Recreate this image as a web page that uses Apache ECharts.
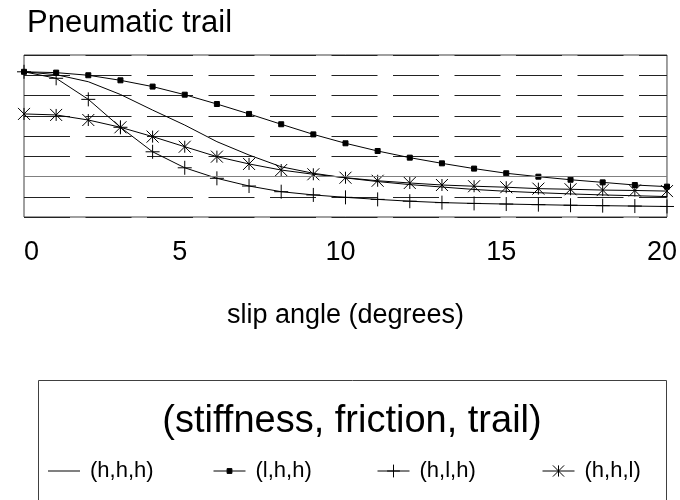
<!DOCTYPE html>
<html>
<head>
<meta charset="utf-8">
<style>
  html, body { margin: 0; padding: 0; background: #fff; }
  #chart { width: 680px; height: 500px; }
</style>
<script src="https://cdn.jsdelivr.net/npm/echarts@6/dist/echarts.min.js"></script>
</head>
<body>
<div id="chart"></div>
<script>
// slip angle in degrees
const slipAngle = [0, 1, 2, 3, 4, 5, 6, 7, 8, 9, 10, 11, 12, 13, 14, 15, 16, 17, 18, 19, 20];
const xTicks = [0, 5, 10, 15, 20];
// pneumatic trail (arbitrary units)
const hhh = [7.17, 7.03, 6.68, 6.05, 5.28, 4.54, 3.72, 3.06, 2.48, 2.16, 1.93, 1.75, 1.60, 1.48, 1.36, 1.27, 1.20, 1.14, 1.09, 1.05, 1.01];
const lhh = [7.17, 7.13, 7.00, 6.75, 6.44, 6.04, 5.58, 5.09, 4.58, 4.08, 3.64, 3.26, 2.93, 2.65, 2.39, 2.16, 1.99, 1.84, 1.71, 1.58, 1.50];
const hlh = [7.17, 6.85, 5.81, 4.43, 3.22, 2.43, 1.91, 1.53, 1.25, 1.09, 0.97, 0.87, 0.78, 0.71, 0.67, 0.64, 0.61, 0.58, 0.56, 0.54, 0.52];
const hhl = [5.09, 5.04, 4.79, 4.43, 3.97, 3.47, 2.98, 2.62, 2.32, 2.11, 1.94, 1.79, 1.68, 1.58, 1.52, 1.47, 1.40, 1.37, 1.33, 1.31, 1.28];
const seriesNames = ['(h,h,h)', '(l,h,h)', '(h,l,h)', '(h,h,l)'];
const referenceLevel = 2;

const pair = arr => slipAngle.map((x, i) => [x, arr[i]]);
const PLUS = 'path://M0,-7L0,7M-7,0L7,0';
const STAR = 'path://M-6,-6L6,6M-6,6L6,-6M0,-6L0,6';
const FONT = '"Liberation Sans", Arial, Helvetica, sans-serif';

const blackItem = { color: '#000', borderColor: '#000', borderWidth: 1 };
const blackLine = { color: '#000', width: 1, type: 'solid' };

function mkSeries(name, data, symbol, size) {
  return {
    name: name,
    type: 'line',
    data: pair(data),
    symbol: symbol,
    symbolSize: size,
    showSymbol: symbol !== 'none',
    showAllSymbol: true,
    clip: false,
    lineStyle: blackLine,
    itemStyle: blackItem,
    emphasis: { disabled: true }
  };
}

const legendLefts = [48, 213, 377, 542];
const legendHeights = [1, 6, 16, 14];
function mkLegend(i) {
  const l = {
    data: [seriesNames[i]],
    left: legendLefts[i],
    top: 460,
    orient: 'horizontal',
    itemWidth: 32,
    itemHeight: legendHeights[i],
    selectedMode: false,
    padding: 0,
    itemStyle: blackItem,
    lineStyle: blackLine,
    textStyle: { fontFamily: FONT, fontSize: 22, color: '#000', padding: [0, 0, 0, 5] }
  };
  if (i === 0) {
    l.icon = 'rect';
    l.itemStyle = { color: '#000', borderWidth: 0 };
  }
  return l;
}

const chart = echarts.init(document.getElementById('chart'), null, { renderer: 'canvas' });
const s0 = mkSeries(seriesNames[0], hhh, 'none', 0);
s0.markLine = {
  silent: true,
  symbol: 'none',
  label: { show: false },
  lineStyle: { type: 'solid', color: '#808080', width: 1 },
  data: [{ yAxis: referenceLevel }],
  animation: false
};
chart.setOption({
  animation: false,
  backgroundColor: '#fff',
  title: {
    text: 'Pneumatic trail',
    left: 27,
    top: 8,
    padding: 0,
    textStyle: { fontFamily: FONT, fontSize: 31, fontWeight: 'normal', color: '#000' }
  },
  grid: {
    left: 24, top: 55, right: 10, bottom: 283,
    show: true, borderColor: '#404040', borderWidth: 1,
    containLabel: false
  },
  xAxis: {
    type: 'value',
    min: 0, max: 20, interval: 5,
    name: 'slip angle (degrees)',
    nameLocation: 'middle',
    nameGap: 85,
    nameTextStyle: { fontFamily: FONT, fontSize: 27, color: '#000' },
    axisLine: { show: false },
    axisTick: { show: false },
    splitLine: { show: false },
    axisLabel: {
      margin: 22,
      fontFamily: FONT, fontSize: 27, color: '#000',
      padding: [0, 10, 0, 0],
      alignMinLabel: 'left',
      customValues: xTicks
    }
  },
  yAxis: {
    type: 'value',
    min: 0, max: 8, interval: 1,
    axisLine: { show: false },
    axisTick: { show: false },
    axisLabel: { show: false },
    splitLine: { show: true, lineStyle: { color: '#222', width: 1, type: [46, 15.5] } }
  },
  legend: [mkLegend(0), mkLegend(1), mkLegend(2), mkLegend(3)],
  graphic: [
    {
      type: 'rect',
      shape: { x: 38.5, y: 380.5, width: 628, height: 200 },
      style: { fill: 'none', stroke: '#404040', lineWidth: 1 },
      silent: true
    },
    {
      type: 'text',
      x: 352, y: 422,
      style: {
        text: '(stiffness, friction, trail)',
        fontFamily: FONT, fontSize: 38, fill: '#000',
        align: 'center', verticalAlign: 'middle'
      },
      silent: true
    }
  ],
  series: [
    s0,
    mkSeries(seriesNames[1], lhh, 'rect', 5),
    mkSeries(seriesNames[2], hlh, PLUS, 14),
    mkSeries(seriesNames[3], hhl, STAR, 12)
  ]
});
</script>
</body>
</html>
